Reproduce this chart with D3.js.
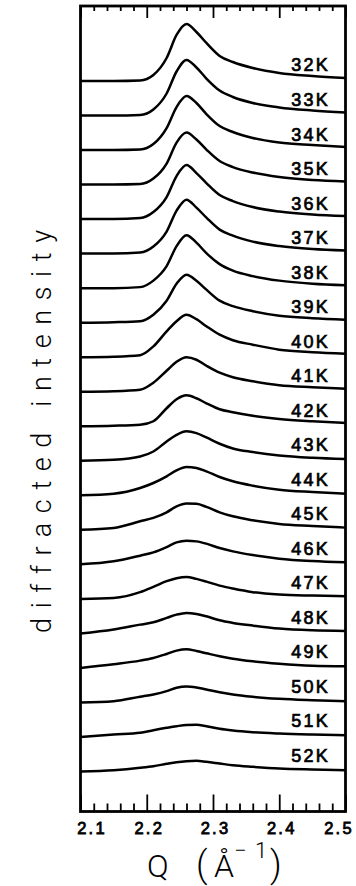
<!DOCTYPE html>
<html>
<head>
<meta charset="utf-8">
<script src="https://cdn.jsdelivr.net/npm/d3@7"></script>
<style>
  html, body { margin: 0; padding: 0; background: #fff; }
  svg { display: block; }
</style>
</head>
<body>
<script>
// ---- data ----
const temps = [32, 33, 34, 35, 36, 37, 38, 39, 40, 41, 42, 43, 44, 45, 46, 47, 48, 49, 50, 51, 52];
const tempLabels = temps.map(t => t + "K");
const qGrid = [2.10, 2.15, 2.19, 2.21, 2.23, 2.245, 2.26, 2.275, 2.29, 2.31, 2.33, 2.36, 2.40, 2.45, 2.50];
const offsetStep = 34.55; // vertical offset between successive scans (intensity units)

const i32 = [0, 0, 0.5, 6, 23, 46, 57, 49, 38, 25, 19, 13, 8, 5, 3];
const i33 = [0, 0, 0.5, 6, 22, 44, 55.5, 48, 37, 25, 18.5, 12.5, 8, 5, 3];
const i34 = [0, 0, 0.5, 6, 22, 43, 54, 47, 36, 24, 18, 12, 7.5, 5, 3];
const i35 = [0, 0, 0.5, 6, 21, 42, 52, 45, 35, 23.5, 17.5, 12, 7.5, 4.5, 3];
const i36 = [0, 0, 1, 7, 22, 43, 54, 46, 36, 24, 18, 12, 7.5, 4.5, 3];
const i37 = [0, 0, 1, 7, 22, 43, 54, 46, 36, 24, 18, 12, 7.5, 4.5, 3];
const i38 = [0, 0, 1, 7.5, 22, 42, 53, 45.5, 35, 24, 17.5, 12, 7.5, 4.5, 3];
const i39 = [0, 0.5, 1.5, 8, 22, 39, 48, 42, 33, 22, 16.5, 11.5, 7, 4.5, 3];
const i40 = [0, 0.5, 2, 10.8, 25.8, 36, 42.5, 38, 31, 22.5, 17, 12.5, 7.5, 5, 3.5];
const i41 = [0, 0.5, 2, 9, 21, 30, 34.5, 32, 26, 19, 14.5, 10.5, 6.5, 4.5, 3];
const i42 = [0, 0.5, 1.5, 5, 18, 27, 31, 28, 23, 17, 14, 10.5, 7.3, 5, 3.3];
const i43 = [0, 1, 4.3, 9.3, 19.3, 26, 29.5, 27.7, 23.3, 17, 12.3, 8.7, 5.3, 3, 1.7];
const i44 = [0, 1.6, 7.3, 12.3, 19, 25, 28.3, 27.3, 24, 18.3, 14, 9.6, 5.6, 3.3, 1.6];
const i45 = [0, 1.9, 8.5, 11.9, 17.5, 23.5, 26.4, 26, 23, 17.5, 13.5, 9.5, 5.9, 3.9, 2.2];
const i46 = [0, 3, 8.7, 12, 17.3, 22, 23.7, 23, 20.7, 16.3, 13, 9.3, 5.7, 3.3, 2];
const i47 = [0, 1, 6.7, 12, 17.7, 20.7, 22, 20, 17.3, 13.3, 10.3, 6.7, 4.3, 3.3, 2.7];
const i48 = [0, 4, 8.8, 11.1, 15.5, 18.8, 20.5, 19.5, 17.1, 13.1, 10.5, 7.8, 4.8, 3.1, 2.5];
const i49 = [0, 3.7, 7.3, 10, 14, 17.3, 18.7, 17, 14.7, 11.7, 9.3, 6.7, 4.3, 2.3, 1.7];
const i50 = [0, 1.3, 5.7, 8, 11.3, 14.7, 16, 15, 13, 10.3, 8, 5.7, 3.7, 2.3, 1.3];
const i51 = [0, 2.5, 4.2, 6.8, 9.2, 10.8, 12, 12.2, 10.8, 8.2, 6.5, 4.8, 3.5, 2.5, 1.8];
const i52 = [0, 1.3, 3.7, 5.3, 7.7, 9.3, 10.3, 10.7, 9.7, 8, 6.3, 4.7, 3, 2, 1.3];
const series = [i32, i33, i34, i35, i36, i37, i38, i39, i40, i41, i42, i43, i44, i45, i46, i47, i48, i49, i50, i51, i52];

const majorTicks = [2.1, 2.2, 2.3, 2.4, 2.5];
const majorTickLabels = ["2.1", "2.2", "2.3", "2.4", "2.5"];
const minorTicks = d3.range(0, 21).map(k => +(2.1 + k * 0.02).toFixed(2)).filter(v => !majorTicks.includes(v));

// ---- layout ----
const W = 356, H = 886;
const pLeft = 80.5, pRight = 345.5, pTop = 6, pBottom = 811.5;

const svg = d3.select("body").append("svg").attr("width", W).attr("height", H);

const x = d3.scaleLinear().domain([2.1, 2.5]).range([pLeft, pRight]);
const y = d3.scaleLinear().domain([-40, 766]).range([pBottom, pTop]);

svg.append("clipPath").attr("id", "clip")
  .append("rect").attr("x", pLeft).attr("y", pTop).attr("width", pRight - pLeft).attr("height", pBottom - pTop);

const line = d3.line()
  .x(d => x(d.q))
  .y(d => y(d.v))
  .curve(d3.curveMonotoneX);

const g = svg.append("g").attr("clip-path", "url(#clip)");
series.forEach((arr, i) => {
  const off = (series.length - 1 - i) * offsetStep;
  const pts = qGrid.map((q, j) => ({ q, v: off + arr[j] }));
  g.append("path")
    .datum(pts)
    .attr("d", line)
    .attr("fill", "none")
    .attr("stroke", "#000")
    .attr("stroke-width", 2.5)
    .attr("stroke-linejoin", "round");
});

// temperature labels
const labelFont = "'Liberation Sans', Arial, Helvetica, sans-serif";
series.forEach((arr, i) => {
  const off = (series.length - 1 - i) * offsetStep;
  svg.append("text")
    .attr("x", 330)
    .attr("y", y(off) - 9.5)
    .attr("text-anchor", "end")
    .attr("font-family", labelFont)
    .attr("font-size", 18)
    .attr("letter-spacing", 2.2)
    .attr("fill", "#000")
    .attr("stroke", "#000")
    .attr("stroke-width", 0.7)
    .text(tempLabels[i]);
});

// axes: ticks pointing inward
function styleAxis(sel) {
  sel.select(".domain").remove();
  sel.selectAll(".tick line").attr("stroke", "#000").attr("stroke-width", 1.8);
}
const bottomMajor = svg.append("g").attr("transform", `translate(0,${pBottom})`)
  .call(d3.axisBottom(x).tickValues(majorTicks).tickSize(-17).tickPadding(10.5)
    .tickFormat((d, i) => majorTickLabels[i]));
styleAxis(bottomMajor);
bottomMajor.selectAll(".tick text")
  .attr("font-family", labelFont)
  .attr("font-size", 16.5)
  .attr("letter-spacing", 2.2)
  .attr("fill", "#000")
  .attr("stroke", "#000")
  .attr("stroke-width", 0.8)
  .attr("dx", (d, i) => i === 0 ? 11 : (i === majorTicks.length - 1 ? -7 : 2));

const bottomMinor = svg.append("g").attr("transform", `translate(0,${pBottom})`)
  .call(d3.axisBottom(x).tickValues(minorTicks).tickSize(-8).tickFormat(""));
styleAxis(bottomMinor);

const topMajor = svg.append("g").attr("transform", `translate(0,${pTop})`)
  .call(d3.axisTop(x).tickValues(majorTicks).tickSize(-12).tickFormat(""));
styleAxis(topMajor);
const topMinor = svg.append("g").attr("transform", `translate(0,${pTop})`)
  .call(d3.axisTop(x).tickValues(minorTicks).tickSize(-5).tickFormat(""));
styleAxis(topMinor);

// frame
svg.append("rect")
  .attr("x", pLeft).attr("y", pTop)
  .attr("width", pRight - pLeft).attr("height", pBottom - pTop)
  .attr("fill", "none").attr("stroke", "#000").attr("stroke-width", 2.8);

// axis titles
const titleFont = "Roboto, 'Liberation Sans', Arial, sans-serif";
const xt = svg.append("text")
  .attr("font-family", titleFont)
  .attr("font-weight", 300)
  .attr("fill", "#000")
  .attr("y", 877);
xt.append("tspan").attr("x", 147).attr("font-size", 32).text("Q");
xt.append("tspan").attr("x", 196).attr("font-size", 36).text("(");
xt.append("tspan").attr("x", 214).attr("font-size", 32).text("Å");
xt.append("tspan").attr("x", 234).attr("y", 858).attr("font-size", 22).text("−");
xt.append("tspan").attr("x", 255).attr("y", 858).attr("font-size", 22).text("1");
xt.append("tspan").attr("x", 270).attr("y", 877).attr("font-size", 36).text(")");

svg.append("text")
  .attr("transform", "translate(51,431.5) rotate(-90)")
  .attr("text-anchor", "middle")
  .attr("font-family", titleFont)
  .attr("font-weight", 300)
  .attr("font-size", 27)
  .attr("fill", "#000")
  .attr("textLength", 403)
  .attr("lengthAdjust", "spacing")
  .text("diffracted intensity");
</script>
</body>
</html>
